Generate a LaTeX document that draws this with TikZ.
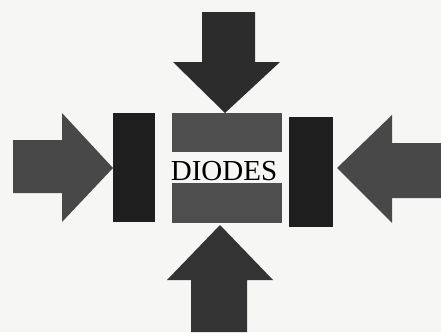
\documentclass[tikz,border=0pt]{standalone}
\usepackage{fontspec}
\setmainfont{Liberation Serif}
\definecolor{bg}{HTML}{F6F6F4}
\definecolor{arrowtop}{HTML}{2C2C2C}
\definecolor{arrowside}{HTML}{484848}
\definecolor{arrowbot}{HTML}{333333}
\definecolor{barcol}{HTML}{4E4E4E}
\definecolor{plate}{HTML}{1F1F1F}
\tikzset{
  arrowshape/.style={fill=#1, draw=none},
  barbox/.style={fill=barcol, draw=none},
  platebox/.style={fill=plate, draw=none},
}
\begin{document}
\begin{tikzpicture}[x=1pt,y=-1pt]
\fill[bg] (0,0) rectangle (441,332);
\useasboundingbox (0,0) rectangle (441,332);
% top arrow
\path[arrowshape=arrowtop] (202,12) -- (255,12) -- (255,62) -- (280,62) -- (225,113) -- (173,62) -- (202,62) -- cycle;
% bottom arrow
\path[arrowshape=arrowbot] (191,332) -- (247,332) -- (247,280) -- (273,280) -- (220,225) -- (167,280) -- (191,280) -- cycle;
% left arrow
\path[arrowshape=arrowside] (13,140) -- (62,140) -- (62,113) -- (113,168) -- (62,222) -- (62,193) -- (13,193) -- cycle;
% right arrow
\path[arrowshape=arrowside] (441,143) -- (392,143) -- (392,115) -- (337,168) -- (392,223) -- (392,198) -- (441,198) -- cycle;
% plates
\path[platebox] (113,113) rectangle (155,222);
\path[platebox] (289,117) rectangle (333,227);
% bars
\path[barbox] (172,113) rectangle (282,152);
\path[barbox] (172,183) rectangle (282,223);
\node[inner sep=0pt, font=\fontsize{29}{29}\selectfont, text=black] (t) at (224,171) {DIODES};
\end{tikzpicture}
\end{document}
